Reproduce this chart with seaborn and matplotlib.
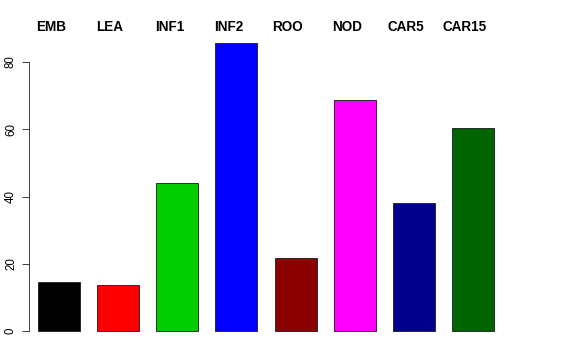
import matplotlib
matplotlib.use("Agg")
import matplotlib.pyplot as plt
import matplotlib.transforms as mtransforms
import seaborn as sns
import pandas as pd

categories = ["EMB", "LEA", "INF1", "INF2", "ROO", "NOD", "CAR5", "CAR15"]
values = [14.6, 13.6, 44.0, 85.7, 21.7, 68.6, 38.1, 60.4]
colors = ["#000000", "#FF0000", "#00CD00", "#0000FF", "#8B0000", "#FF00FF", "#00008B", "#006400"]
yticks = [0, 20, 40, 60, 80]

df = pd.DataFrame({"cat": categories, "val": values})

sns.set_style("white")
plt.rcParams["font.family"] = ["Liberation Sans", "DejaVu Sans"]
plt.rcParams["text.color"] = "black"
plt.rcParams["xtick.color"] = "black"
plt.rcParams["ytick.color"] = "black"

W, H = 576, 360
fig = plt.figure(figsize=(W / 72, H / 72), dpi=72)
ax = fig.add_axes([29 / W, 1 - 340 / H, (560 - 29) / W, (340 - 40) / H])

sns.barplot(data=df, x="cat", y="val", hue="cat", palette=colors, order=categories,
            hue_order=categories, dodge=False, legend=False, width=0.71,
            edgecolor="#222222", linewidth=0.9, saturation=1, ax=ax)

px_per_unit_y = 269 / 80
ax.set_ylim((331 - 340) / px_per_unit_y, (331 - 40) / px_per_unit_y)
ax.set_xlim(-0.507, -0.507 + (560 - 29) / 59.14)

for s in ["top", "right", "bottom"]:
    ax.spines[s].set_visible(False)
ax.spines["left"].set_bounds(0, 80)
ax.spines["left"].set_color("#444444")
ax.spines["left"].set_linewidth(1)

ax.set_yticks(yticks)
ax.set_yticklabels([str(t) for t in yticks], rotation=90, va="center", fontsize=11.5, color="black")
ax.tick_params(axis="y", which="major", left=True, length=7, width=1, color="#444444", pad=5)

ax.xaxis.tick_top()
ax.set_xticks(range(len(categories)))
ax.set_xticklabels(categories, fontsize=13.5, fontweight="bold", color="black")
ax.tick_params(axis="x", which="major", top=False, bottom=False, length=0, pad=6)
offset = mtransforms.ScaledTranslation(-8 / 72, 0, fig.dpi_scale_trans)
for lbl in ax.get_xticklabels():
    lbl.set_transform(lbl.get_transform() + offset)

ax.set_xlabel("")
ax.set_ylabel("")
ax.grid(False)

fig.savefig("out.png", dpi=72)
